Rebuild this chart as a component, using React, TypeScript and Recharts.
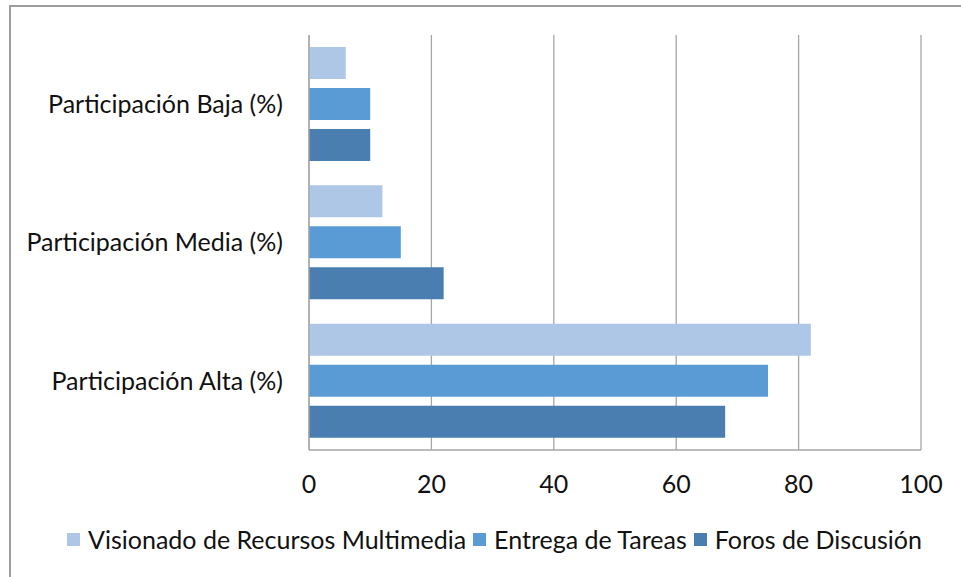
import React from 'react'
import { BarChart, Bar, XAxis, YAxis, CartesianGrid, Legend } from 'recharts'

const categories = ['Participación Baja (%)', 'Participación Media (%)', 'Participación Alta (%)']
const visionado = [6, 12, 82]
const entrega = [10, 15, 75]
const foros = [10, 22, 68]
const xTicks = [0, 20, 40, 60, 80, 100]

const seriesNames = ['Visionado de Recursos Multimedia', 'Entrega de Tareas', 'Foros de Discusión']
const colors = ['#AFC7E7', '#5B9BD5', '#4A7EB0']

const data = categories.map((name, i) => ({
  name,
  visionado: visionado[i],
  entrega: entrega[i],
  foros: foros[i],
}))

const FONT = 'Lato, "DejaVu Sans", sans-serif'
const FS = 25
const GRID = '#A6A6A6'

function LegendContent() {
  return (
    <div
      style={{
        display: 'flex',
        justifyContent: 'center',
        alignItems: 'center',
        fontFamily: FONT,
        fontSize: FS,
        lineHeight: '30px',
        color: '#111',
        whiteSpace: 'nowrap',
      }}
    >
      {seriesNames.map((n, i) => (
        <span key={n} style={{ display: 'inline-flex', alignItems: 'center', marginRight: i < 2 ? 7 : 0 }}>
          <span style={{ width: 13, height: 13, background: colors[i], display: 'inline-block', marginRight: 8 }} />
          {n}
        </span>
      ))}
    </div>
  )
}

export default function App() {
  return (
    <div style={{ position: 'relative', width: 961, height: 577, overflow: 'hidden', background: '#fff' }}>
      <style>{`body{margin:0}`}</style>
      <div
        style={{
          position: 'absolute',
          left: 9,
          top: 5,
          width: 1200,
          height: 900,
          borderTop: '2px solid #9D9D9D',
          borderLeft: '2px solid #9D9D9D',
        }}
      />
      <BarChart
        width={961}
        height={577}
        data={data}
        layout="vertical"
        margin={{ top: 35, right: 40, bottom: 67, left: 0 }}
        barSize={32}
        barGap={9}
        style={{ position: 'absolute', left: 0, top: 0 }}
      >
        <CartesianGrid horizontal={false} stroke={GRID} strokeWidth={1.3} />
        <XAxis
          type="number"
          domain={[0, 100]}
          ticks={xTicks}
          height={60}
          axisLine={{ stroke: GRID, strokeWidth: 1.3 }}
          tickLine={false}
          tickSize={0}
          tickMargin={25}
          tick={{ fill: '#111', fontSize: FS, fontFamily: FONT }}
        />
        <YAxis
          type="category"
          dataKey="name"
          width={309}
          axisLine={{ stroke: GRID, strokeWidth: 1.3 }}
          tickLine={false}
          tickSize={0}
          tickMargin={26}
          tick={{ fill: '#111', fontSize: FS, fontFamily: FONT }}
        />
        <Legend
          layout="horizontal"
          verticalAlign="middle"
          align="center"
          content={<LegendContent />}
          wrapperStyle={{ top: 524, left: 14, width: 961 }}
        />
        <Bar dataKey="visionado" name={seriesNames[0]} fill={colors[0]} isAnimationActive={false} />
        <Bar dataKey="entrega" name={seriesNames[1]} fill={colors[1]} isAnimationActive={false} />
        <Bar dataKey="foros" name={seriesNames[2]} fill={colors[2]} isAnimationActive={false} />
      </BarChart>
    </div>
  )
}
